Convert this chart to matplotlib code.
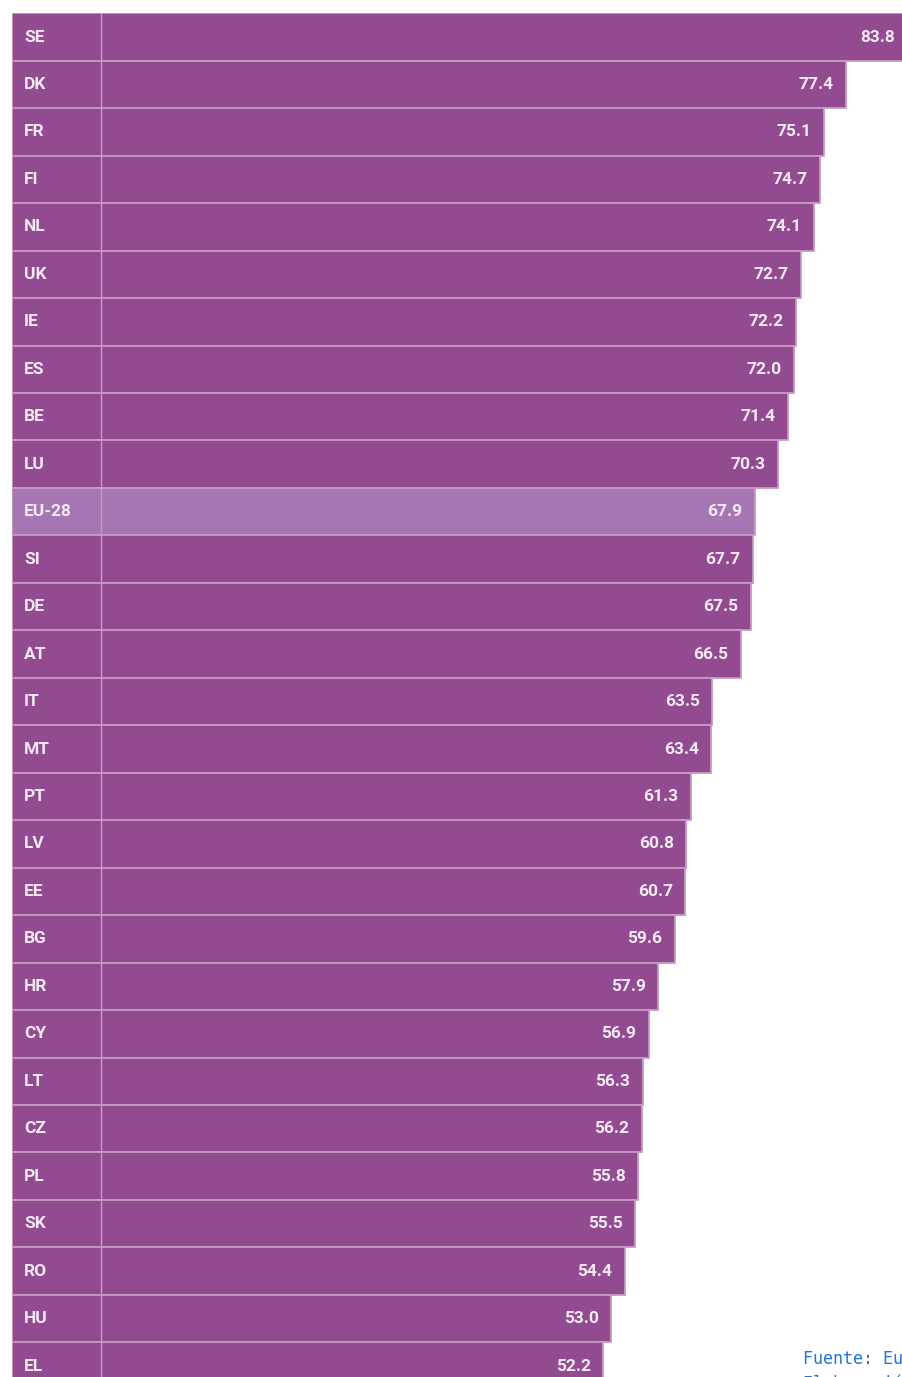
import matplotlib.pyplot as plt

# Data
COUNTRIES = ["SE", "DK", "FR", "FI", "NL", "UK", "IE", "ES", "BE", "LU",
             "EU-28", "SI", "DE", "AT", "IT", "MT", "PT", "LV", "EE", "BG",
             "HR", "CY", "LT", "CZ", "PL", "SK", "RO", "HU", "EL"]
VALUES = [83.8, 77.4, 75.1, 74.7, 74.1, 72.7, 72.2, 72.0, 71.4, 70.3,
          67.9, 67.7, 67.5, 66.5, 63.5, 63.4, 61.3, 60.8, 60.7, 59.6,
          57.9, 56.9, 56.3, 56.2, 55.8, 55.5, 54.4, 53.0, 52.2]
HIGHLIGHT = "EU-28"
SOURCE_LINES = ["Fuente: Eurostat", "Elaboración propia"]

# Styles
BAR_COLOR = "#924a91"
HIGHLIGHT_COLOR = "#a675b3"
EDGE_COLOR = "#c79ac6"
TEXT_COLOR = "#f5eaf4"
LABEL_W = 9.25  # width of the code column, in data units

W, H, DPI = 902, 1377, 100
fig = plt.figure(figsize=(W / DPI, H / DPI), dpi=DPI)
ax = fig.add_axes([12 / W, 0, 890 / W, 1 - 13.3 / H])

rows = range(len(COUNTRIES))
colors = [HIGHLIGHT_COLOR if c == HIGHLIGHT else BAR_COLOR for c in COUNTRIES]
ax.barh(rows, [v + LABEL_W for v in VALUES], left=-LABEL_W, height=1.0,
        color=colors, edgecolor=EDGE_COLOR, linewidth=1.3, zorder=2)
ax.axvline(0, color=EDGE_COLOR, lw=1.0, zorder=3)

for i, (code, val) in enumerate(zip(COUNTRIES, VALUES)):
    ax.text(-LABEL_W + 1.25, i, code, ha="left", va="center",
            fontsize=12.5, fontweight="bold", family="Roboto",
            color=TEXT_COLOR, zorder=4)
    ax.annotate(f"{val:.1f}", xy=(val, i), xytext=(-9, 0),
                textcoords="offset points", ha="right", va="center",
                fontsize=12.5, fontweight="bold", family="Roboto",
                color=TEXT_COLOR, zorder=4, annotation_clip=False)

ax.set_xlim(-LABEL_W, 83.22)
ax.set_ylim(28.23, -0.5)
ax.axis("off")

# source note, cut by the right and bottom edges as in the original
for k, line in enumerate(SOURCE_LINES):
    fig.text(803 / W, 1 - (1364 + 25 * k) / H, line, ha="left", va="baseline",
             fontsize=12, family="DejaVu Sans Mono", color="#1f74d6")

fig.savefig("out.png", dpi=DPI)
